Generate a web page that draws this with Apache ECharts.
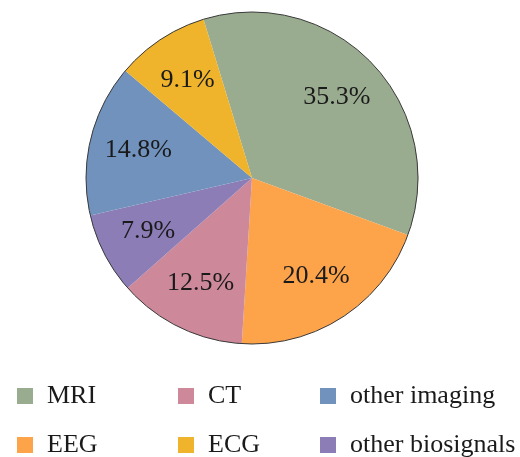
<!DOCTYPE html>
<html>
<head>
<meta charset="utf-8">
<script src="https://cdn.jsdelivr.net/npm/echarts@6/dist/echarts.min.js"></script>
<style>
html,body{margin:0;padding:0;background:#fff;}
#chart{width:520px;height:457px;}
</style>
</head>
<body>
<div id="chart"></div>
<script>
// Data (clockwise order from the top)
const categories = ['MRI', 'EEG', 'CT', 'other biosignals', 'other imaging', 'ECG'];
const shares = [35.3, 20.4, 12.5, 7.9, 14.8, 9.1];
const colors = ['#9AAC8F', '#FDA44B', '#CD899A', '#8C7DB7', '#7092BD', '#EFB42B'];
const legendRow1 = ['MRI', 'CT', 'other imaging'];
const legendRow2 = ['EEG', 'ECG', 'other biosignals'];

const font = '"Liberation Serif", "DejaVu Serif", serif';
const pieData = categories.map((c, i) => ({ name: c, value: shares[i], itemStyle: { color: colors[i] } }));
const total = shares.reduce((a, b) => a + b, 0);

const chart = echarts.init(document.getElementById('chart'), null, { renderer: 'canvas' });

const colLefts = [17, 178, 320];
const rowTops = [382, 431];
function legendItem(name, left, top) {
  return {
    data: [name],
    orient: 'horizontal',
    left: left,
    top: top,
    padding: 0,
    icon: 'rect',
    itemWidth: 16,
    itemHeight: 16,
    selectedMode: false,
    textStyle: { fontFamily: font, fontSize: 26, color: '#1a1a1a', lineHeight: 28, padding: [0, 0, 0, 9] }
  };
}
const legends = [];
legendRow1.forEach((n, i) => legends.push(legendItem(n, colLefts[i], rowTops[0])));
legendRow2.forEach((n, i) => legends.push(legendItem(n, colLefts[i], rowTops[1])));

chart.setOption({
  animation: false,
  backgroundColor: '#fff',
  legend: legends,
  series: [
    {
      type: 'pie',
      center: [252, 178],
      radius: [0, 166],
      startAngle: 107,
      clockwise: true,
      silent: true,
      label: { show: false },
      labelLine: { show: false },
      itemStyle: { borderWidth: 0 },
      data: pieData
    },
    {
      type: 'pie',
      center: [252, 178],
      radius: [0, 166],
      silent: true,
      label: { show: false },
      labelLine: { show: false },
      itemStyle: { color: 'rgba(0,0,0,0)', borderColor: '#3a3a3a', borderWidth: 1 },
      data: [{ name: 'outline', value: total }]
    },
    {
      type: 'pie',
      center: [252, 178],
      radius: [62, 166],
      startAngle: 107,
      clockwise: true,
      silent: true,
      itemStyle: { color: 'rgba(0,0,0,0)', borderWidth: 0 },
      labelLine: { show: false },
      label: {
        show: true,
        position: 'inside',
        formatter: p => shares[p.dataIndex].toFixed(1) + '%',
        fontFamily: font,
        fontSize: 26,
        color: '#1a1a1a'
      },
      data: categories.map((c, i) => ({ name: c + ' ', value: shares[i] }))
    }
  ]
});
</script>
</body>
</html>
